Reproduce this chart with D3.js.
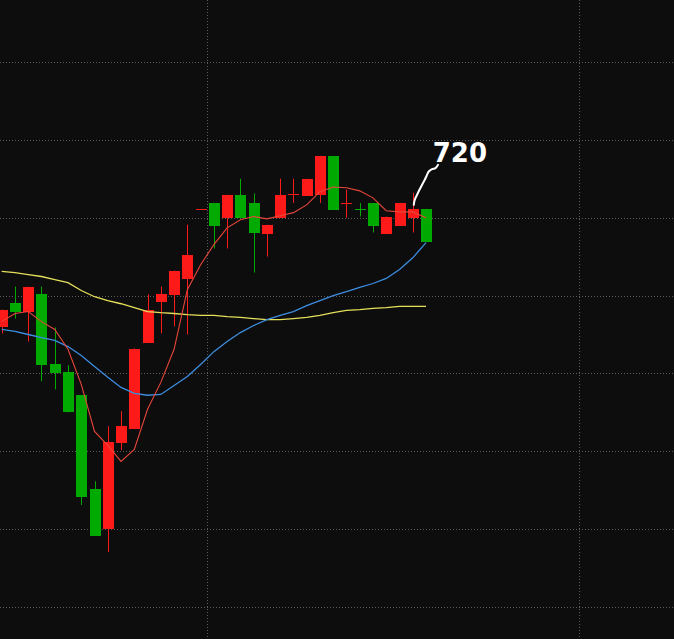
<!DOCTYPE html>
<html>
<head>
<meta charset="utf-8">
<script src="https://cdn.jsdelivr.net/npm/d3@7"></script>
<style>
  body { margin: 0; background: #0d0d0d; }
  svg { display: block; }
</style>
</head>
<body>
<div id="chart"></div>
<script>
// daily bars (price units)
var opens  = [692.1, 698.2, 695.9, 700.3, 682.3, 680.3, 674.4, 650.3, 640.0, 662.1, 665.9, 687.9, 698.2, 700.3, 704.1, 722.3,
              723.8, 720.0, 725.9, 723.8, 715.9, 720.0, 726.0, 725.6, 725.9, 735.9, 723.6, 722.3, 723.8, 715.9, 717.9, 720.0, 722.3];
var highs  = [696.4, 702.3, 702.3, 702.3, 691.8, 682.1, 674.4, 652.3, 666.4, 670.3, 686.4, 700.3, 702.3, 706.4, 718.2, 722.3,
              723.8, 725.9, 730.0, 726.2, 718.2, 730.0, 730.0, 730.0, 735.9, 735.9, 727.2, 723.8, 723.8, 720.3, 723.8, 726.4, 722.3];
var lows   = [690.3, 694.1, 688.2, 678.0, 675.9, 670.0, 646.2, 638.2, 634.1, 660.3, 665.9, 687.9, 690.3, 692.1, 690.0, 722.3,
              712.1, 712.1, 720.0, 705.9, 710.0, 720.0, 723.8, 725.6, 723.8, 722.1, 720.0, 720.3, 716.2, 715.9, 717.9, 716.2, 713.8];
var closes = [696.4, 695.9, 702.3, 682.1, 680.0, 670.0, 648.2, 638.2, 662.3, 666.4, 686.4, 696.4, 700.3, 706.4, 710.3, 722.3,
              717.9, 725.9, 720.0, 716.2, 718.2, 725.9, 726.2, 730.0, 735.9, 722.1, 723.8, 722.1, 717.9, 720.3, 723.8, 722.3, 713.8];

// moving averages
var maShort = [693.3, 695.4, 695.9, 693.3, 691.3, 686.2, 677.2, 665.1, 661.5, 657.4, 660.5, 670.8, 677.7, 686.2, 701.5, 707.9,
               713.1, 717.4, 719.5, 720.3, 719.7, 720.5, 721.3, 723.3, 726.7, 727.9, 727.7, 726.9, 725.1, 721.8, 721.5, 721.5, 720.0];
var maMid   = [691.3, 690.8, 690.0, 689.2, 688.5, 686.9, 684.6, 681.8, 679.0, 676.4, 674.9, 674.4, 674.6, 676.9, 679.2, 682.3,
               685.6, 688.2, 690.5, 692.3, 693.8, 694.9, 695.9, 697.4, 698.7, 700.0, 701.0, 702.1, 703.1, 704.4, 706.7, 709.7, 713.6];
var maLong  = [706.2, 705.9, 705.4, 704.9, 704.1, 703.3, 701.3, 699.7, 698.7, 697.9, 696.9, 695.9, 695.6, 695.4, 695.1, 694.9,
               694.9, 694.6, 694.4, 694.1, 693.8, 693.8, 694.1, 694.4, 694.9, 695.6, 696.2, 696.4, 696.7, 696.9, 697.2, 697.2, 697.2];

var priceGrid = [620, 640, 660, 680, 700, 720, 740, 760];
var dateBreaks = [15.5, 43.5];   // period separators between bars
var markBar = 31, markLabel = "720";

var width = 674, height = 639;

var svg = d3.select("#chart")
  .append("svg")
  .attr("width", width)
  .attr("height", height);

svg.append("rect")
  .attr("width", width)
  .attr("height", height)
  .attr("fill", "#0d0d0d");

var xScale = d3.scaleLinear()
  .domain([0, 50])
  .range([1.7, 1.7 + 13.26 * 50]);

var yScale = d3.scaleLinear()
  .domain([620, 760])
  .range([607, 62]);

// dotted grid
svg.selectAll(".hgrid")
  .data(priceGrid)
  .enter().append("line")
  .attr("class", "hgrid")
  .attr("x1", 0)
  .attr("x2", width)
  .attr("y1", function(d) { return Math.round(yScale(d)) + 0.5; })
  .attr("y2", function(d) { return Math.round(yScale(d)) + 0.5; })
  .attr("stroke", "#5a5a5a")
  .attr("stroke-dasharray", "1,2");

svg.selectAll(".vgrid")
  .data(dateBreaks)
  .enter().append("line")
  .attr("class", "vgrid")
  .attr("x1", function(d) { return Math.round(xScale(d)) + 0.5; })
  .attr("x2", function(d) { return Math.round(xScale(d)) + 0.5; })
  .attr("y1", 0)
  .attr("y2", height)
  .attr("stroke", "#5a5a5a")
  .attr("stroke-dasharray", "1,2");

var bars = opens.map(function(o, i) {
  return { i: i, open: o, high: highs[i], low: lows[i], close: closes[i] };
});

function barColor(d) { return d.close >= d.open ? "#ff1a1a" : "#00aa00"; }

var bodyW = 11;

// wicks
svg.selectAll(".wick")
  .data(bars)
  .enter().append("line")
  .attr("class", "wick")
  .attr("x1", function(d) { return Math.round(xScale(d.i)) + 0.5; })
  .attr("x2", function(d) { return Math.round(xScale(d.i)) + 0.5; })
  .attr("y1", function(d) { return yScale(d.high); })
  .attr("y2", function(d) { return yScale(d.low); })
  .attr("stroke", barColor)
  .attr("stroke-width", 1);

// bodies
svg.selectAll(".body")
  .data(bars)
  .enter().append("rect")
  .attr("class", "body")
  .attr("x", function(d) { return Math.round(xScale(d.i)) - Math.floor(bodyW / 2); })
  .attr("y", function(d) { return Math.round(yScale(Math.max(d.open, d.close))); })
  .attr("width", bodyW)
  .attr("height", function(d) {
    return Math.max(1, Math.round(Math.abs(yScale(d.open) - yScale(d.close))));
  })
  .attr("fill", barColor);

// moving average lines
var line = d3.line()
  .x(function(d, i) { return xScale(i); })
  .y(function(d) { return yScale(d); });

svg.append("path")
  .datum(maLong)
  .attr("d", line)
  .attr("fill", "none")
  .attr("stroke", "#e6e05a")
  .attr("stroke-width", 1.3);

svg.append("path")
  .datum(maMid)
  .attr("d", line)
  .attr("fill", "none")
  .attr("stroke", "#3d8ee0")
  .attr("stroke-width", 1.3);

svg.append("path")
  .datum(maShort)
  .attr("d", line)
  .attr("fill", "none")
  .attr("stroke", "#e8463a")
  .attr("stroke-width", 1.1);

// hand drawn pointer to the marked bar, plus its label
var ax = xScale(markBar) + 1, ay = yScale(highs[markBar]) + 12;
var squiggle = [[0, 0], [1, -5], [3.3, -10], [5.7, -15], [8.3, -20], [11, -25], [13.3, -30], [15, -33.3], [18.3, -35.7], [21.7, -36.7], [24.3, -40]];

svg.append("path")
  .datum(squiggle)
  .attr("d", d3.line()
    .x(function(d) { return ax + d[0]; })
    .y(function(d) { return ay + d[1]; })
    .curve(d3.curveCatmullRom))
  .attr("fill", "none")
  .attr("stroke", "#ffffff")
  .attr("stroke-width", 2)
  .attr("stroke-linecap", "round");

svg.append("text")
  .attr("x", ax + 19)
  .attr("y", ay - 43)
  .attr("fill", "#ffffff")
  .attr("font-family", "DejaVu Sans, sans-serif")
  .attr("font-weight", "bold")
  .attr("font-size", "26px")
  .text(markLabel);
</script>
</body>
</html>
